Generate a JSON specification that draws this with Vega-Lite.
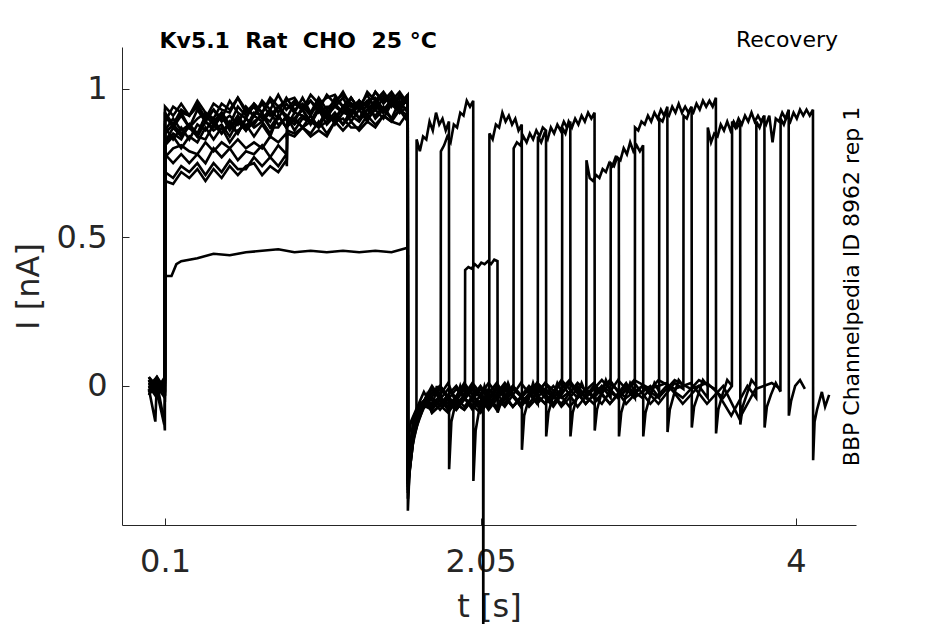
{
  "$schema": "https://vega.github.io/schema/vega-lite/v6.json",
  "description": "Kv5.1 recovery protocol, current traces",
  "background": "white",
  "autosize": {"type": "none"},
  "padding": {"left": 122, "top": 47, "right": 89, "bottom": 99},
  "width": 734,
  "height": 478,
  "config": {
    "font": "DejaVu Sans",
    "view": {"stroke": null},
    "axis": {
      "grid": false,
      "domainColor": "#262626",
      "tickColor": "#262626",
      "labelColor": "#262626",
      "titleColor": "#262626",
      "titleFontWeight": "normal",
      "domainWidth": 1,
      "tickWidth": 1
    }
  },
  "title": {
    "text": "Recovery",
    "anchor": "end",
    "frame": "group",
    "fontSize": 22,
    "fontWeight": "normal",
    "color": "#000",
    "baseline": "alphabetic",
    "offset": 0,
    "dx": -18,
    "dy": 40
  },
  "data": {
    "values": [
      {"s":0,"t":0,"i":0.02},{"s":0,"t":0.05,"i":-0.03},{"s":0,"t":0.099,"i":0.01},
      {"s":0,"t":0.1,"i":0.87},{"s":0,"t":0.15,"i":0.83},{"s":0,"t":0.2,"i":0.87},{"s":0,"t":0.25,"i":0.83},{"s":0,"t":0.3,"i":0.88},{"s":0,"t":0.35,"i":0.86},{"s":0,"t":0.4,"i":0.9},{"s":0,"t":0.45,"i":0.85},{"s":0,"t":0.5,"i":0.88},{"s":0,"t":0.55,"i":0.85},{"s":0,"t":0.6,"i":0.9},{"s":0,"t":0.65,"i":0.88},{"s":0,"t":0.7,"i":0.92},{"s":0,"t":0.75,"i":0.87},{"s":0,"t":0.8,"i":0.91},{"s":0,"t":0.85,"i":0.87},{"s":0,"t":0.9,"i":0.92},{"s":0,"t":0.95,"i":0.91},{"s":0,"t":1.0,"i":0.89},{"s":0,"t":1.05,"i":0.94},{"s":0,"t":1.1,"i":0.91},{"s":0,"t":1.15,"i":0.89},{"s":0,"t":1.2,"i":0.94},{"s":0,"t":1.25,"i":0.92},{"s":0,"t":1.3,"i":0.96},{"s":0,"t":1.35,"i":0.91},{"s":0,"t":1.4,"i":0.95},{"s":0,"t":1.45,"i":0.92},{"s":0,"t":1.5,"i":0.97},{"s":0,"t":1.55,"i":0.94},{"s":0,"t":1.6,"i":0.96},
      {"s":0,"t":1.601,"i":-0.42},{"s":0,"t":1.61,"i":-0.3},{"s":0,"t":1.63,"i":-0.2},{"s":0,"t":1.654,"i":-0.14},
      {"s":0,"t":1.655,"i":0.83},{"s":0,"t":1.675,"i":0.79},{"s":0,"t":1.695,"i":0.84},{"s":0,"t":1.715,"i":0.83},{"s":0,"t":1.735,"i":0.89},{"s":0,"t":1.755,"i":0.86},{"s":0,"t":1.775,"i":0.92},{"s":0,"t":1.795,"i":0.88},{"s":0,"t":1.815,"i":0.9},{"s":0,"t":1.835,"i":0.86},{"s":0,"t":1.855,"i":0.89},
      {"s":0,"t":1.856,"i":-0.28},{"s":0,"t":1.87,"i":-0.12},{"s":0,"t":1.895,"i":-0.06},{"s":0,"t":1.925,"i":0.0},{"s":0,"t":1.955,"i":-0.05},

      {"s":1,"t":0,"i":-0.01},{"s":1,"t":0.04,"i":-0.12},{"s":1,"t":0.05,"i":0.02},{"s":1,"t":0.099,"i":-0.02},
      {"s":1,"t":0.1,"i":0.81},{"s":1,"t":0.15,"i":0.84},{"s":1,"t":0.2,"i":0.8},{"s":1,"t":0.25,"i":0.84},{"s":1,"t":0.3,"i":0.82},{"s":1,"t":0.35,"i":0.87},{"s":1,"t":0.4,"i":0.83},{"s":1,"t":0.45,"i":0.87},{"s":1,"t":0.5,"i":0.82},{"s":1,"t":0.55,"i":0.86},{"s":1,"t":0.6,"i":0.88},{"s":1,"t":0.65,"i":0.84},{"s":1,"t":0.7,"i":0.88},{"s":1,"t":0.75,"i":0.84},{"s":1,"t":0.8,"i":0.91},{"s":1,"t":0.85,"i":0.87},{"s":1,"t":0.9,"i":0.9},{"s":1,"t":0.95,"i":0.87},{"s":1,"t":1.0,"i":0.89},{"s":1,"t":1.05,"i":0.87},{"s":1,"t":1.1,"i":0.92},{"s":1,"t":1.15,"i":0.89},{"s":1,"t":1.2,"i":0.94},{"s":1,"t":1.25,"i":0.89},{"s":1,"t":1.3,"i":0.93},{"s":1,"t":1.35,"i":0.89},{"s":1,"t":1.4,"i":0.94},{"s":1,"t":1.45,"i":0.92},{"s":1,"t":1.5,"i":0.95},{"s":1,"t":1.55,"i":0.92},{"s":1,"t":1.6,"i":0.94},
      {"s":1,"t":1.601,"i":-0.33},{"s":1,"t":1.615,"i":-0.27},{"s":1,"t":1.64,"i":-0.16},{"s":1,"t":1.68,"i":-0.1},{"s":1,"t":1.72,"i":-0.03},{"s":1,"t":1.75,"i":-0.08},{"s":1,"t":1.78,"i":0.0},{"s":1,"t":1.804,"i":-0.06},
      {"s":1,"t":1.805,"i":0.79},{"s":1,"t":1.825,"i":0.81},{"s":1,"t":1.845,"i":0.84},{"s":1,"t":1.865,"i":0.82},{"s":1,"t":1.885,"i":0.88},{"s":1,"t":1.905,"i":0.87},{"s":1,"t":1.925,"i":0.92},{"s":1,"t":1.945,"i":0.91},{"s":1,"t":1.965,"i":0.96},{"s":1,"t":1.985,"i":0.94},{"s":1,"t":2.005,"i":0.96},
      {"s":1,"t":2.006,"i":-0.32},{"s":1,"t":2.02,"i":-0.15},{"s":1,"t":2.045,"i":-0.07},{"s":1,"t":2.075,"i":0.0},{"s":1,"t":2.105,"i":-0.05},

      {"s":2,"t":0,"i":0.01},{"s":2,"t":0.05,"i":-0.02},{"s":2,"t":0.095,"i":-0.13},{"s":2,"t":0.099,"i":-0.03},
      {"s":2,"t":0.1,"i":0.37},{"s":2,"t":0.14,"i":0.37},{"s":2,"t":0.17,"i":0.41},{"s":2,"t":0.2,"i":0.42},{"s":2,"t":0.3,"i":0.43},{"s":2,"t":0.4,"i":0.445},{"s":2,"t":0.5,"i":0.44},{"s":2,"t":0.6,"i":0.45},{"s":2,"t":0.7,"i":0.455},{"s":2,"t":0.8,"i":0.46},{"s":2,"t":0.9,"i":0.45},{"s":2,"t":1.0,"i":0.455},{"s":2,"t":1.1,"i":0.45},{"s":2,"t":1.2,"i":0.455},{"s":2,"t":1.3,"i":0.45},{"s":2,"t":1.4,"i":0.455},{"s":2,"t":1.5,"i":0.45},{"s":2,"t":1.6,"i":0.465},
      {"s":2,"t":1.601,"i":-0.2},{"s":2,"t":1.62,"i":-0.12},{"s":2,"t":1.66,"i":-0.07},{"s":2,"t":1.7,"i":-0.02},{"s":2,"t":1.75,"i":-0.07},{"s":2,"t":1.8,"i":-0.03},{"s":2,"t":1.85,"i":0.01},{"s":2,"t":1.9,"i":-0.06},{"s":2,"t":1.954,"i":-0.03},
      {"s":2,"t":1.955,"i":0.39},{"s":2,"t":1.975,"i":0.4},{"s":2,"t":1.995,"i":0.395},{"s":2,"t":2.015,"i":0.41},{"s":2,"t":2.035,"i":0.4},{"s":2,"t":2.055,"i":0.415},{"s":2,"t":2.075,"i":0.41},{"s":2,"t":2.095,"i":0.42},{"s":2,"t":2.115,"i":0.41},{"s":2,"t":2.135,"i":0.425},{"s":2,"t":2.155,"i":0.42},
      {"s":2,"t":2.156,"i":-0.09},{"s":2,"t":2.18,"i":-0.05},{"s":2,"t":2.22,"i":0.01},{"s":2,"t":2.255,"i":-0.04},

      {"s":3,"t":0,"i":0.03},{"s":3,"t":0.05,"i":0.0},{"s":3,"t":0.099,"i":-0.04},
      {"s":3,"t":0.1,"i":0.91},{"s":3,"t":0.15,"i":0.88},{"s":3,"t":0.2,"i":0.93},{"s":3,"t":0.25,"i":0.91},{"s":3,"t":0.3,"i":0.95},{"s":3,"t":0.35,"i":0.9},{"s":3,"t":0.4,"i":0.93},{"s":3,"t":0.45,"i":0.9},{"s":3,"t":0.5,"i":0.96},{"s":3,"t":0.55,"i":0.92},{"s":3,"t":0.6,"i":0.9},{"s":3,"t":0.65,"i":0.95},{"s":3,"t":0.7,"i":0.92},{"s":3,"t":0.75,"i":0.96},{"s":3,"t":0.8,"i":0.92},{"s":3,"t":0.85,"i":0.97},{"s":3,"t":0.9,"i":0.93},{"s":3,"t":0.95,"i":0.95},{"s":3,"t":1.0,"i":0.92},{"s":3,"t":1.05,"i":0.97},{"s":3,"t":1.1,"i":0.93},{"s":3,"t":1.15,"i":0.96},{"s":3,"t":1.2,"i":0.98},{"s":3,"t":1.25,"i":0.95},{"s":3,"t":1.3,"i":0.94},{"s":3,"t":1.35,"i":0.98},{"s":3,"t":1.4,"i":0.93},{"s":3,"t":1.45,"i":0.97},{"s":3,"t":1.5,"i":0.96},{"s":3,"t":1.55,"i":0.99},{"s":3,"t":1.6,"i":0.95},
      {"s":3,"t":1.601,"i":-0.3},{"s":3,"t":1.615,"i":-0.22},{"s":3,"t":1.64,"i":-0.12},{"s":3,"t":1.68,"i":-0.07},{"s":3,"t":1.75,"i":0.0},{"s":3,"t":1.85,"i":-0.08},{"s":3,"t":1.95,"i":0.01},{"s":3,"t":2.05,"i":-0.07},{"s":3,"t":2.104,"i":-0.03},
      {"s":3,"t":2.105,"i":0.85},{"s":3,"t":2.125,"i":0.83},{"s":3,"t":2.145,"i":0.88},{"s":3,"t":2.165,"i":0.87},{"s":3,"t":2.185,"i":0.92},{"s":3,"t":2.205,"i":0.89},{"s":3,"t":2.225,"i":0.91},{"s":3,"t":2.245,"i":0.88},{"s":3,"t":2.265,"i":0.9},{"s":3,"t":2.285,"i":0.86},{"s":3,"t":2.305,"i":0.88},
      {"s":3,"t":2.306,"i":-0.215},{"s":3,"t":2.32,"i":-0.1},{"s":3,"t":2.345,"i":-0.05},{"s":3,"t":2.375,"i":0.01},{"s":3,"t":2.405,"i":-0.04},

      {"s":4,"t":0,"i":-0.02},{"s":4,"t":0.05,"i":0.03},{"s":4,"t":0.099,"i":-0.01},
      {"s":4,"t":0.1,"i":0.72},{"s":4,"t":0.15,"i":0.7},{"s":4,"t":0.2,"i":0.74},{"s":4,"t":0.25,"i":0.72},{"s":4,"t":0.3,"i":0.75},{"s":4,"t":0.35,"i":0.71},{"s":4,"t":0.4,"i":0.75},{"s":4,"t":0.45,"i":0.72},{"s":4,"t":0.5,"i":0.76},{"s":4,"t":0.55,"i":0.73},{"s":4,"t":0.6,"i":0.73},{"s":4,"t":0.65,"i":0.77},{"s":4,"t":0.7,"i":0.74},{"s":4,"t":0.75,"i":0.77},{"s":4,"t":0.8,"i":0.74},{"s":4,"t":0.85,"i":0.78},{"s":4,"t":0.853,"i":0.76},{"s":4,"t":0.855,"i":0.86},
      {"s":4,"t":0.9,"i":0.85},{"s":4,"t":0.95,"i":0.87},{"s":4,"t":1.0,"i":0.85},{"s":4,"t":1.05,"i":0.89},{"s":4,"t":1.1,"i":0.85},{"s":4,"t":1.15,"i":0.89},{"s":4,"t":1.2,"i":0.9},{"s":4,"t":1.25,"i":0.87},{"s":4,"t":1.3,"i":0.87},{"s":4,"t":1.35,"i":0.91},{"s":4,"t":1.4,"i":0.88},{"s":4,"t":1.45,"i":0.91},{"s":4,"t":1.5,"i":0.89},{"s":4,"t":1.55,"i":0.93},{"s":4,"t":1.6,"i":0.89},
      {"s":4,"t":1.601,"i":-0.36},{"s":4,"t":1.612,"i":-0.26},{"s":4,"t":1.635,"i":-0.15},{"s":4,"t":1.67,"i":-0.09},{"s":4,"t":1.72,"i":-0.03},{"s":4,"t":1.8,"i":-0.08},{"s":4,"t":1.9,"i":-0.01},{"s":4,"t":2.0,"i":-0.07},{"s":4,"t":2.1,"i":0.01},{"s":4,"t":2.2,"i":-0.06},{"s":4,"t":2.254,"i":-0.01},
      {"s":4,"t":2.255,"i":0.8},{"s":4,"t":2.275,"i":0.82},{"s":4,"t":2.295,"i":0.81},{"s":4,"t":2.315,"i":0.84},{"s":4,"t":2.335,"i":0.82},{"s":4,"t":2.355,"i":0.85},{"s":4,"t":2.375,"i":0.83},{"s":4,"t":2.395,"i":0.86},{"s":4,"t":2.415,"i":0.84},{"s":4,"t":2.435,"i":0.87},{"s":4,"t":2.455,"i":0.86},
      {"s":4,"t":2.456,"i":-0.17},{"s":4,"t":2.47,"i":-0.09},{"s":4,"t":2.495,"i":-0.04},{"s":4,"t":2.525,"i":0.01},{"s":4,"t":2.555,"i":-0.02},

      {"s":5,"t":0,"i":0.0},{"s":5,"t":0.05,"i":-0.04},{"s":5,"t":0.099,"i":0.02},
      {"s":5,"t":0.1,"i":0.86},{"s":5,"t":0.15,"i":0.9},{"s":5,"t":0.2,"i":0.86},{"s":5,"t":0.25,"i":0.88},{"s":5,"t":0.3,"i":0.85},{"s":5,"t":0.35,"i":0.91},{"s":5,"t":0.4,"i":0.88},{"s":5,"t":0.45,"i":0.92},{"s":5,"t":0.5,"i":0.87},{"s":5,"t":0.55,"i":0.91},{"s":5,"t":0.6,"i":0.87},{"s":5,"t":0.65,"i":0.92},{"s":5,"t":0.7,"i":0.91},{"s":5,"t":0.75,"i":0.89},{"s":5,"t":0.8,"i":0.94},{"s":5,"t":0.85,"i":0.91},{"s":5,"t":0.9,"i":0.89},{"s":5,"t":0.95,"i":0.94},{"s":5,"t":1.0,"i":0.91},{"s":5,"t":1.05,"i":0.96},{"s":5,"t":1.1,"i":0.91},{"s":5,"t":1.15,"i":0.94},{"s":5,"t":1.2,"i":0.92},{"s":5,"t":1.25,"i":0.97},{"s":5,"t":1.3,"i":0.93},{"s":5,"t":1.35,"i":0.96},{"s":5,"t":1.4,"i":0.97},{"s":5,"t":1.45,"i":0.93},{"s":5,"t":1.5,"i":0.96},{"s":5,"t":1.55,"i":0.93},{"s":5,"t":1.6,"i":0.98},
      {"s":5,"t":1.601,"i":-0.32},{"s":5,"t":1.615,"i":-0.24},{"s":5,"t":1.64,"i":-0.13},{"s":5,"t":1.68,"i":-0.08},{"s":5,"t":1.75,"i":-0.04},{"s":5,"t":1.85,"i":-0.09},{"s":5,"t":1.95,"i":-0.01},{"s":5,"t":2.05,"i":-0.08},{"s":5,"t":2.15,"i":0.0},{"s":5,"t":2.25,"i":-0.07},{"s":5,"t":2.35,"i":-0.01},{"s":5,"t":2.404,"i":-0.06},
      {"s":5,"t":2.405,"i":0.84},{"s":5,"t":2.425,"i":0.82},{"s":5,"t":2.445,"i":0.85},{"s":5,"t":2.465,"i":0.83},{"s":5,"t":2.485,"i":0.87},{"s":5,"t":2.505,"i":0.85},{"s":5,"t":2.525,"i":0.88},{"s":5,"t":2.545,"i":0.86},{"s":5,"t":2.565,"i":0.89},{"s":5,"t":2.585,"i":0.87},{"s":5,"t":2.605,"i":0.89},
      {"s":5,"t":2.606,"i":-0.17},{"s":5,"t":2.62,"i":-0.09},{"s":5,"t":2.645,"i":-0.04},{"s":5,"t":2.675,"i":0.01},{"s":5,"t":2.705,"i":-0.03},

      {"s":6,"t":0,"i":0.02},{"s":6,"t":0.04,"i":-0.02},{"s":6,"t":0.099,"i":0.03},
      {"s":6,"t":0.1,"i":0.92},{"s":6,"t":0.15,"i":0.88},{"s":6,"t":0.2,"i":0.92},{"s":6,"t":0.25,"i":0.87},{"s":6,"t":0.3,"i":0.9},{"s":6,"t":0.35,"i":0.92},{"s":6,"t":0.4,"i":0.89},{"s":6,"t":0.45,"i":0.92},{"s":6,"t":0.5,"i":0.88},{"s":6,"t":0.55,"i":0.94},{"s":6,"t":0.6,"i":0.91},{"s":6,"t":0.65,"i":0.94},{"s":6,"t":0.7,"i":0.9},{"s":6,"t":0.75,"i":0.93},{"s":6,"t":0.8,"i":0.9},{"s":6,"t":0.85,"i":0.95},{"s":6,"t":0.9,"i":0.92},{"s":6,"t":0.95,"i":0.97},{"s":6,"t":1.0,"i":0.92},{"s":6,"t":1.05,"i":0.95},{"s":6,"t":1.1,"i":0.91},{"s":6,"t":1.15,"i":0.97},{"s":6,"t":1.2,"i":0.94},{"s":6,"t":1.25,"i":0.97},{"s":6,"t":1.3,"i":0.93},{"s":6,"t":1.35,"i":0.96},{"s":6,"t":1.4,"i":0.95},{"s":6,"t":1.45,"i":0.98},{"s":6,"t":1.5,"i":0.94},{"s":6,"t":1.55,"i":0.98},{"s":6,"t":1.6,"i":0.95},
      {"s":6,"t":1.601,"i":-0.29},{"s":6,"t":1.615,"i":-0.2},{"s":6,"t":1.64,"i":-0.11},{"s":6,"t":1.68,"i":-0.06},{"s":6,"t":1.8,"i":0.0},{"s":6,"t":1.9,"i":-0.07},{"s":6,"t":2.0,"i":0.01},{"s":6,"t":2.1,"i":-0.06},{"s":6,"t":2.2,"i":0.0},{"s":6,"t":2.3,"i":-0.07},{"s":6,"t":2.4,"i":0.01},{"s":6,"t":2.5,"i":-0.06},{"s":6,"t":2.554,"i":-0.01},
      {"s":6,"t":2.555,"i":0.87},{"s":6,"t":2.575,"i":0.85},{"s":6,"t":2.595,"i":0.89},{"s":6,"t":2.615,"i":0.87},{"s":6,"t":2.635,"i":0.9},{"s":6,"t":2.655,"i":0.88},{"s":6,"t":2.675,"i":0.91},{"s":6,"t":2.695,"i":0.89},{"s":6,"t":2.715,"i":0.92},{"s":6,"t":2.735,"i":0.9},{"s":6,"t":2.755,"i":0.92},
      {"s":6,"t":2.756,"i":-0.15},{"s":6,"t":2.77,"i":-0.08},{"s":6,"t":2.795,"i":-0.03},{"s":6,"t":2.825,"i":0.02},{"s":6,"t":2.855,"i":-0.02},

      {"s":7,"t":0,"i":-0.03},{"s":7,"t":0.05,"i":0.01},{"s":7,"t":0.095,"i":-0.12},{"s":7,"t":0.099,"i":-0.15},
      {"s":7,"t":0.1,"i":0.69},{"s":7,"t":0.15,"i":0.68},{"s":7,"t":0.2,"i":0.72},{"s":7,"t":0.25,"i":0.7},{"s":7,"t":0.3,"i":0.73},{"s":7,"t":0.35,"i":0.69},{"s":7,"t":0.4,"i":0.73},{"s":7,"t":0.45,"i":0.7},{"s":7,"t":0.5,"i":0.74},{"s":7,"t":0.55,"i":0.71},{"s":7,"t":0.6,"i":0.74},{"s":7,"t":0.65,"i":0.75},{"s":7,"t":0.7,"i":0.71},{"s":7,"t":0.75,"i":0.74},{"s":7,"t":0.8,"i":0.72},{"s":7,"t":0.85,"i":0.76},{"s":7,"t":0.853,"i":0.74},{"s":7,"t":0.855,"i":0.85},
      {"s":7,"t":0.9,"i":0.84},{"s":7,"t":0.95,"i":0.87},{"s":7,"t":1.0,"i":0.84},{"s":7,"t":1.05,"i":0.86},{"s":7,"t":1.1,"i":0.84},{"s":7,"t":1.15,"i":0.89},{"s":7,"t":1.2,"i":0.86},{"s":7,"t":1.25,"i":0.89},{"s":7,"t":1.3,"i":0.86},{"s":7,"t":1.35,"i":0.89},{"s":7,"t":1.4,"i":0.87},{"s":7,"t":1.45,"i":0.91},{"s":7,"t":1.5,"i":0.89},{"s":7,"t":1.55,"i":0.88},{"s":7,"t":1.6,"i":0.92},
      {"s":7,"t":1.601,"i":-0.38},{"s":7,"t":1.613,"i":-0.28},{"s":7,"t":1.635,"i":-0.18},{"s":7,"t":1.67,"i":-0.11},{"s":7,"t":1.72,"i":-0.05},{"s":7,"t":1.75,"i":-0.09},{"s":7,"t":1.85,"i":-0.04},{"s":7,"t":1.95,"i":-0.08},{"s":7,"t":2.05,"i":-0.01},{"s":7,"t":2.15,"i":-0.07},{"s":7,"t":2.25,"i":0.0},{"s":7,"t":2.35,"i":-0.06},{"s":7,"t":2.45,"i":0.01},{"s":7,"t":2.55,"i":-0.04},{"s":7,"t":2.65,"i":0.0},{"s":7,"t":2.704,"i":-0.04},
      {"s":7,"t":2.705,"i":0.76},{"s":7,"t":2.725,"i":0.7},{"s":7,"t":2.745,"i":0.69},{"s":7,"t":2.765,"i":0.71},{"s":7,"t":2.785,"i":0.7},{"s":7,"t":2.805,"i":0.73},{"s":7,"t":2.825,"i":0.72},{"s":7,"t":2.845,"i":0.75},{"s":7,"t":2.865,"i":0.74},{"s":7,"t":2.885,"i":0.77},{"s":7,"t":2.905,"i":0.76},
      {"s":7,"t":2.906,"i":-0.17},{"s":7,"t":2.92,"i":-0.09},{"s":7,"t":2.945,"i":-0.04},{"s":7,"t":2.975,"i":0.01},{"s":7,"t":3.005,"i":-0.02},

      {"s":8,"t":0,"i":0.01},{"s":8,"t":0.05,"i":-0.02},{"s":8,"t":0.099,"i":0.0},
      {"s":8,"t":0.1,"i":0.78},{"s":8,"t":0.15,"i":0.75},{"s":8,"t":0.2,"i":0.78},{"s":8,"t":0.25,"i":0.75},{"s":8,"t":0.3,"i":0.78},{"s":8,"t":0.35,"i":0.75},{"s":8,"t":0.4,"i":0.8},{"s":8,"t":0.45,"i":0.77},{"s":8,"t":0.5,"i":0.8},{"s":8,"t":0.55,"i":0.76},{"s":8,"t":0.6,"i":0.79},{"s":8,"t":0.65,"i":0.78},{"s":8,"t":0.7,"i":0.81},{"s":8,"t":0.75,"i":0.77},{"s":8,"t":0.8,"i":0.81},{"s":8,"t":0.85,"i":0.78},{"s":8,"t":0.853,"i":0.8},{"s":8,"t":0.855,"i":0.88},
      {"s":8,"t":0.9,"i":0.9},{"s":8,"t":0.95,"i":0.87},{"s":8,"t":1.0,"i":0.91},{"s":8,"t":1.05,"i":0.87},{"s":8,"t":1.1,"i":0.89},{"s":8,"t":1.15,"i":0.92},{"s":8,"t":1.2,"i":0.88},{"s":8,"t":1.25,"i":0.91},{"s":8,"t":1.3,"i":0.89},{"s":8,"t":1.35,"i":0.93},{"s":8,"t":1.4,"i":0.91},{"s":8,"t":1.45,"i":0.94},{"s":8,"t":1.5,"i":0.9},{"s":8,"t":1.55,"i":0.93},{"s":8,"t":1.6,"i":0.91},
      {"s":8,"t":1.601,"i":-0.34},{"s":8,"t":1.614,"i":-0.25},{"s":8,"t":1.64,"i":-0.14},{"s":8,"t":1.68,"i":-0.08},{"s":8,"t":1.8,"i":-0.04},{"s":8,"t":1.9,"i":-0.08},{"s":8,"t":2.0,"i":-0.01},{"s":8,"t":2.1,"i":-0.07},{"s":8,"t":2.2,"i":0.0},{"s":8,"t":2.3,"i":-0.06},{"s":8,"t":2.4,"i":-0.01},{"s":8,"t":2.5,"i":-0.07},{"s":8,"t":2.6,"i":0.01},{"s":8,"t":2.7,"i":-0.06},{"s":8,"t":2.8,"i":0.0},{"s":8,"t":2.854,"i":-0.04},
      {"s":8,"t":2.855,"i":0.75},{"s":8,"t":2.875,"i":0.74},{"s":8,"t":2.895,"i":0.77},{"s":8,"t":2.915,"i":0.76},{"s":8,"t":2.935,"i":0.8},{"s":8,"t":2.955,"i":0.78},{"s":8,"t":2.975,"i":0.82},{"s":8,"t":2.995,"i":0.79},{"s":8,"t":3.015,"i":0.81},{"s":8,"t":3.035,"i":0.79},{"s":8,"t":3.055,"i":0.81},
      {"s":8,"t":3.056,"i":-0.17},{"s":8,"t":3.07,"i":-0.09},{"s":8,"t":3.095,"i":-0.04},{"s":8,"t":3.125,"i":0.01},{"s":8,"t":3.155,"i":-0.02},

      {"s":9,"t":0,"i":-0.02},{"s":9,"t":0.05,"i":0.02},{"s":9,"t":0.099,"i":-0.03},
      {"s":9,"t":0.1,"i":0.82},{"s":9,"t":0.15,"i":0.85},{"s":9,"t":0.2,"i":0.83},{"s":9,"t":0.25,"i":0.88},{"s":9,"t":0.3,"i":0.84},{"s":9,"t":0.35,"i":0.83},{"s":9,"t":0.4,"i":0.88},{"s":9,"t":0.45,"i":0.85},{"s":9,"t":0.5,"i":0.89},{"s":9,"t":0.55,"i":0.85},{"s":9,"t":0.6,"i":0.9},{"s":9,"t":0.65,"i":0.87},{"s":9,"t":0.7,"i":0.89},{"s":9,"t":0.75,"i":0.85},{"s":9,"t":0.8,"i":0.91},{"s":9,"t":0.85,"i":0.87},{"s":9,"t":0.9,"i":0.9},{"s":9,"t":0.95,"i":0.93},{"s":9,"t":1.0,"i":0.89},{"s":9,"t":1.05,"i":0.88},{"s":9,"t":1.1,"i":0.93},{"s":9,"t":1.15,"i":0.88},{"s":9,"t":1.2,"i":0.92},{"s":9,"t":1.25,"i":0.91},{"s":9,"t":1.3,"i":0.95},{"s":9,"t":1.35,"i":0.9},{"s":9,"t":1.4,"i":0.93},{"s":9,"t":1.45,"i":0.9},{"s":9,"t":1.5,"i":0.95},{"s":9,"t":1.55,"i":0.93},{"s":9,"t":1.6,"i":0.97},
      {"s":9,"t":1.601,"i":-0.31},{"s":9,"t":1.615,"i":-0.23},{"s":9,"t":1.64,"i":-0.12},{"s":9,"t":1.68,"i":-0.07},{"s":9,"t":1.75,"i":-0.01},{"s":9,"t":1.85,"i":-0.08},{"s":9,"t":1.95,"i":-0.04},{"s":9,"t":2.05,"i":-0.09},{"s":9,"t":2.15,"i":-0.01},{"s":9,"t":2.25,"i":-0.07},{"s":9,"t":2.35,"i":0.0},{"s":9,"t":2.45,"i":-0.06},{"s":9,"t":2.55,"i":0.01},{"s":9,"t":2.65,"i":-0.07},{"s":9,"t":2.75,"i":0.0},{"s":9,"t":2.85,"i":-0.06},{"s":9,"t":2.95,"i":0.01},{"s":9,"t":3.004,"i":-0.04},
      {"s":9,"t":3.005,"i":0.87},{"s":9,"t":3.025,"i":0.86},{"s":9,"t":3.045,"i":0.89},{"s":9,"t":3.065,"i":0.88},{"s":9,"t":3.085,"i":0.91},{"s":9,"t":3.105,"i":0.89},{"s":9,"t":3.125,"i":0.92},{"s":9,"t":3.145,"i":0.9},{"s":9,"t":3.165,"i":0.93},{"s":9,"t":3.185,"i":0.91},{"s":9,"t":3.205,"i":0.94},
      {"s":9,"t":3.206,"i":-0.155},{"s":9,"t":3.22,"i":-0.08},{"s":9,"t":3.245,"i":-0.03},{"s":9,"t":3.275,"i":0.02},{"s":9,"t":3.305,"i":0.0},

      {"s":10,"t":0,"i":0.0},{"s":10,"t":0.05,"i":0.03},{"s":10,"t":0.099,"i":-0.02},
      {"s":10,"t":0.1,"i":0.94},{"s":10,"t":0.15,"i":0.91},{"s":10,"t":0.2,"i":0.95},{"s":10,"t":0.25,"i":0.91},{"s":10,"t":0.3,"i":0.94},{"s":10,"t":0.35,"i":0.9},{"s":10,"t":0.4,"i":0.95},{"s":10,"t":0.45,"i":0.93},{"s":10,"t":0.5,"i":0.92},{"s":10,"t":0.55,"i":0.97},{"s":10,"t":0.6,"i":0.93},{"s":10,"t":0.65,"i":0.91},{"s":10,"t":0.7,"i":0.96},{"s":10,"t":0.75,"i":0.93},{"s":10,"t":0.8,"i":0.98},{"s":10,"t":0.85,"i":0.93},{"s":10,"t":0.9,"i":0.96},{"s":10,"t":0.95,"i":0.93},{"s":10,"t":1.0,"i":0.98},{"s":10,"t":1.05,"i":0.95},{"s":10,"t":1.1,"i":0.97},{"s":10,"t":1.15,"i":0.98},{"s":10,"t":1.2,"i":0.94},{"s":10,"t":1.25,"i":0.97},{"s":10,"t":1.3,"i":0.93},{"s":10,"t":1.35,"i":0.99},{"s":10,"t":1.4,"i":0.96},{"s":10,"t":1.45,"i":0.99},{"s":10,"t":1.5,"i":0.95},{"s":10,"t":1.55,"i":0.97},{"s":10,"t":1.6,"i":0.95},
      {"s":10,"t":1.601,"i":-0.3},{"s":10,"t":1.615,"i":-0.22},{"s":10,"t":1.64,"i":-0.12},{"s":10,"t":1.68,"i":-0.07},{"s":10,"t":1.8,"i":-0.06},{"s":10,"t":1.9,"i":0.0},{"s":10,"t":2.0,"i":-0.08},{"s":10,"t":2.066,"i":-0.04},{"s":10,"t":2.067,"i":-0.85},{"s":10,"t":2.069,"i":-0.05},{"s":10,"t":2.1,"i":-0.01},{"s":10,"t":2.2,"i":-0.07},{"s":10,"t":2.3,"i":0.01},{"s":10,"t":2.4,"i":-0.06},{"s":10,"t":2.5,"i":0.0},{"s":10,"t":2.6,"i":-0.07},{"s":10,"t":2.7,"i":-0.01},{"s":10,"t":2.8,"i":-0.06},{"s":10,"t":2.9,"i":0.02},{"s":10,"t":3.0,"i":-0.04},{"s":10,"t":3.1,"i":0.0},{"s":10,"t":3.154,"i":-0.04},
      {"s":10,"t":3.155,"i":0.9},{"s":10,"t":3.175,"i":0.89},{"s":10,"t":3.195,"i":0.92},{"s":10,"t":3.215,"i":0.91},{"s":10,"t":3.235,"i":0.94},{"s":10,"t":3.255,"i":0.92},{"s":10,"t":3.275,"i":0.95},{"s":10,"t":3.295,"i":0.92},{"s":10,"t":3.315,"i":0.94},{"s":10,"t":3.335,"i":0.92},{"s":10,"t":3.355,"i":0.94},
      {"s":10,"t":3.356,"i":-0.14},{"s":10,"t":3.37,"i":-0.07},{"s":10,"t":3.395,"i":-0.03},{"s":10,"t":3.425,"i":0.02},{"s":10,"t":3.455,"i":0.0},

      {"s":11,"t":0,"i":0.02},{"s":11,"t":0.05,"i":-0.01},{"s":11,"t":0.099,"i":0.02},
      {"s":11,"t":0.1,"i":0.91},{"s":11,"t":0.15,"i":0.87},{"s":11,"t":0.2,"i":0.91},{"s":11,"t":0.25,"i":0.87},{"s":11,"t":0.3,"i":0.93},{"s":11,"t":0.35,"i":0.89},{"s":11,"t":0.4,"i":0.93},{"s":11,"t":0.45,"i":0.89},{"s":11,"t":0.5,"i":0.91},{"s":11,"t":0.55,"i":0.88},{"s":11,"t":0.6,"i":0.94},{"s":11,"t":0.65,"i":0.91},{"s":11,"t":0.7,"i":0.95},{"s":11,"t":0.75,"i":0.91},{"s":11,"t":0.8,"i":0.94},{"s":11,"t":0.85,"i":0.9},{"s":11,"t":0.9,"i":0.95},{"s":11,"t":0.95,"i":0.93},{"s":11,"t":1.0,"i":0.96},{"s":11,"t":1.05,"i":0.92},{"s":11,"t":1.1,"i":0.94},{"s":11,"t":1.15,"i":0.94},{"s":11,"t":1.2,"i":0.97},{"s":11,"t":1.25,"i":0.92},{"s":11,"t":1.3,"i":0.96},{"s":11,"t":1.35,"i":0.94},{"s":11,"t":1.4,"i":0.99},{"s":11,"t":1.45,"i":0.95},{"s":11,"t":1.5,"i":0.98},{"s":11,"t":1.55,"i":0.94},{"s":11,"t":1.6,"i":0.97},
      {"s":11,"t":1.601,"i":-0.3},{"s":11,"t":1.615,"i":-0.21},{"s":11,"t":1.64,"i":-0.11},{"s":11,"t":1.68,"i":-0.06},{"s":11,"t":1.75,"i":-0.08},{"s":11,"t":1.85,"i":-0.01},{"s":11,"t":1.95,"i":-0.07},{"s":11,"t":2.05,"i":0.0},{"s":11,"t":2.15,"i":-0.08},{"s":11,"t":2.25,"i":-0.01},{"s":11,"t":2.35,"i":-0.06},{"s":11,"t":2.45,"i":0.01},{"s":11,"t":2.55,"i":-0.07},{"s":11,"t":2.65,"i":-0.01},{"s":11,"t":2.75,"i":-0.06},{"s":11,"t":2.85,"i":0.01},{"s":11,"t":2.95,"i":-0.04},{"s":11,"t":3.05,"i":0.0},{"s":11,"t":3.15,"i":-0.06},{"s":11,"t":3.25,"i":0.01},{"s":11,"t":3.304,"i":-0.01},
      {"s":11,"t":3.305,"i":0.91},{"s":11,"t":3.325,"i":0.9},{"s":11,"t":3.345,"i":0.93},{"s":11,"t":3.365,"i":0.92},{"s":11,"t":3.385,"i":0.95},{"s":11,"t":3.405,"i":0.93},{"s":11,"t":3.425,"i":0.96},{"s":11,"t":3.445,"i":0.94},{"s":11,"t":3.465,"i":0.96},{"s":11,"t":3.485,"i":0.94},{"s":11,"t":3.505,"i":0.97},
      {"s":11,"t":3.506,"i":-0.16},{"s":11,"t":3.52,"i":-0.08},{"s":11,"t":3.545,"i":-0.03},{"s":11,"t":3.575,"i":0.02},{"s":11,"t":3.605,"i":0.0},

      {"s":12,"t":0,"i":-0.01},{"s":12,"t":0.05,"i":0.02},{"s":12,"t":0.099,"i":-0.02},
      {"s":12,"t":0.1,"i":0.77},{"s":12,"t":0.15,"i":0.8},{"s":12,"t":0.2,"i":0.81},{"s":12,"t":0.25,"i":0.79},{"s":12,"t":0.3,"i":0.78},{"s":12,"t":0.35,"i":0.82},{"s":12,"t":0.4,"i":0.79},{"s":12,"t":0.45,"i":0.82},{"s":12,"t":0.5,"i":0.8},{"s":12,"t":0.55,"i":0.83},{"s":12,"t":0.6,"i":0.8},{"s":12,"t":0.65,"i":0.82},{"s":12,"t":0.7,"i":0.8},{"s":12,"t":0.75,"i":0.84},{"s":12,"t":0.8,"i":0.82},{"s":12,"t":0.85,"i":0.85},{"s":12,"t":0.853,"i":0.83},{"s":12,"t":0.855,"i":0.9},
      {"s":12,"t":0.9,"i":0.88},{"s":12,"t":0.95,"i":0.91},{"s":12,"t":1.0,"i":0.89},{"s":12,"t":1.05,"i":0.93},{"s":12,"t":1.1,"i":0.9},{"s":12,"t":1.15,"i":0.9},{"s":12,"t":1.2,"i":0.94},{"s":12,"t":1.25,"i":0.91},{"s":12,"t":1.3,"i":0.95},{"s":12,"t":1.35,"i":0.91},{"s":12,"t":1.4,"i":0.96},{"s":12,"t":1.45,"i":0.93},{"s":12,"t":1.5,"i":0.95},{"s":12,"t":1.55,"i":0.93},{"s":12,"t":1.6,"i":0.97},
      {"s":12,"t":1.601,"i":-0.33},{"s":12,"t":1.615,"i":-0.24},{"s":12,"t":1.64,"i":-0.13},{"s":12,"t":1.68,"i":-0.07},{"s":12,"t":1.8,"i":-0.01},{"s":12,"t":1.9,"i":-0.07},{"s":12,"t":2.0,"i":0.0},{"s":12,"t":2.1,"i":-0.08},{"s":12,"t":2.2,"i":-0.01},{"s":12,"t":2.3,"i":-0.06},{"s":12,"t":2.4,"i":0.01},{"s":12,"t":2.5,"i":-0.04},{"s":12,"t":2.6,"i":0.02},{"s":12,"t":2.7,"i":-0.06},{"s":12,"t":2.8,"i":0.0},{"s":12,"t":2.9,"i":-0.04},{"s":12,"t":3.0,"i":0.02},{"s":12,"t":3.1,"i":-0.01},{"s":12,"t":3.2,"i":0.01},{"s":12,"t":3.3,"i":-0.06},{"s":12,"t":3.4,"i":0.0},{"s":12,"t":3.454,"i":-0.04},
      {"s":12,"t":3.455,"i":0.87},{"s":12,"t":3.475,"i":0.82},{"s":12,"t":3.495,"i":0.85},{"s":12,"t":3.515,"i":0.84},{"s":12,"t":3.535,"i":0.88},{"s":12,"t":3.555,"i":0.86},{"s":12,"t":3.575,"i":0.89},{"s":12,"t":3.595,"i":0.86},{"s":12,"t":3.615,"i":0.89},{"s":12,"t":3.635,"i":0.87},{"s":12,"t":3.655,"i":0.89},
      {"s":12,"t":3.656,"i":-0.13},{"s":12,"t":3.67,"i":-0.07},{"s":12,"t":3.695,"i":-0.03},{"s":12,"t":3.725,"i":0.02},{"s":12,"t":3.755,"i":0.0},

      {"s":13,"t":0,"i":0.03},{"s":13,"t":0.05,"i":-0.02},{"s":13,"t":0.099,"i":0.01},
      {"s":13,"t":0.1,"i":0.82},{"s":13,"t":0.15,"i":0.87},{"s":13,"t":0.2,"i":0.84},{"s":13,"t":0.25,"i":0.88},{"s":13,"t":0.3,"i":0.84},{"s":13,"t":0.35,"i":0.89},{"s":13,"t":0.4,"i":0.86},{"s":13,"t":0.45,"i":0.88},{"s":13,"t":0.5,"i":0.84},{"s":13,"t":0.55,"i":0.89},{"s":13,"t":0.6,"i":0.86},{"s":13,"t":0.65,"i":0.89},{"s":13,"t":0.7,"i":0.91},{"s":13,"t":0.75,"i":0.87},{"s":13,"t":0.8,"i":0.87},{"s":13,"t":0.85,"i":0.91},{"s":13,"t":0.9,"i":0.86},{"s":13,"t":0.95,"i":0.9},{"s":13,"t":1.0,"i":0.89},{"s":13,"t":1.05,"i":0.93},{"s":13,"t":1.1,"i":0.88},{"s":13,"t":1.15,"i":0.91},{"s":13,"t":1.2,"i":0.88},{"s":13,"t":1.25,"i":0.93},{"s":13,"t":1.3,"i":0.9},{"s":13,"t":1.35,"i":0.95},{"s":13,"t":1.4,"i":0.9},{"s":13,"t":1.45,"i":0.93},{"s":13,"t":1.5,"i":0.9},{"s":13,"t":1.55,"i":0.96},{"s":13,"t":1.6,"i":0.92},
      {"s":13,"t":1.601,"i":-0.35},{"s":13,"t":1.615,"i":-0.26},{"s":13,"t":1.64,"i":-0.15},{"s":13,"t":1.68,"i":-0.08},{"s":13,"t":1.72,"i":-0.05},{"s":13,"t":1.75,"i":-0.09},{"s":13,"t":1.85,"i":-0.04},{"s":13,"t":1.95,"i":-0.08},{"s":13,"t":2.05,"i":-0.01},{"s":13,"t":2.15,"i":-0.07},{"s":13,"t":2.25,"i":0.0},{"s":13,"t":2.35,"i":-0.07},{"s":13,"t":2.45,"i":-0.01},{"s":13,"t":2.55,"i":-0.06},{"s":13,"t":2.65,"i":0.01},{"s":13,"t":2.75,"i":-0.04},{"s":13,"t":2.85,"i":0.02},{"s":13,"t":2.95,"i":-0.06},{"s":13,"t":3.05,"i":0.0},{"s":13,"t":3.15,"i":-0.04},{"s":13,"t":3.25,"i":0.02},{"s":13,"t":3.35,"i":-0.01},{"s":13,"t":3.45,"i":0.01},{"s":13,"t":3.55,"i":-0.04},{"s":13,"t":3.604,"i":0.0},
      {"s":13,"t":3.605,"i":0.89},{"s":13,"t":3.625,"i":0.87},{"s":13,"t":3.645,"i":0.9},{"s":13,"t":3.665,"i":0.88},{"s":13,"t":3.685,"i":0.91},{"s":13,"t":3.705,"i":0.89},{"s":13,"t":3.725,"i":0.92},{"s":13,"t":3.745,"i":0.89},{"s":13,"t":3.765,"i":0.91},{"s":13,"t":3.785,"i":0.89},{"s":13,"t":3.805,"i":0.91},
      {"s":13,"t":3.806,"i":-0.14},{"s":13,"t":3.82,"i":-0.07},{"s":13,"t":3.845,"i":-0.03},{"s":13,"t":3.875,"i":0.01},{"s":13,"t":3.905,"i":-0.02},

      {"s":14,"t":0,"i":-0.03},{"s":14,"t":0.05,"i":0.01},{"s":14,"t":0.099,"i":-0.01},
      {"s":14,"t":0.1,"i":0.89},{"s":14,"t":0.15,"i":0.94},{"s":14,"t":0.2,"i":0.92},{"s":14,"t":0.25,"i":0.91},{"s":14,"t":0.3,"i":0.96},{"s":14,"t":0.35,"i":0.92},{"s":14,"t":0.4,"i":0.9},{"s":14,"t":0.45,"i":0.95},{"s":14,"t":0.5,"i":0.93},{"s":14,"t":0.55,"i":0.97},{"s":14,"t":0.6,"i":0.92},{"s":14,"t":0.65,"i":0.95},{"s":14,"t":0.7,"i":0.92},{"s":14,"t":0.75,"i":0.97},{"s":14,"t":0.8,"i":0.94},{"s":14,"t":0.85,"i":0.96},{"s":14,"t":0.9,"i":0.97},{"s":14,"t":0.95,"i":0.93},{"s":14,"t":1.0,"i":0.96},{"s":14,"t":1.05,"i":0.93},{"s":14,"t":1.1,"i":0.98},{"s":14,"t":1.15,"i":0.95},{"s":14,"t":1.2,"i":0.99},{"s":14,"t":1.25,"i":0.94},{"s":14,"t":1.3,"i":0.96},{"s":14,"t":1.35,"i":0.94},{"s":14,"t":1.4,"i":0.99},{"s":14,"t":1.45,"i":0.96},{"s":14,"t":1.5,"i":0.99},{"s":14,"t":1.55,"i":0.95},{"s":14,"t":1.6,"i":0.98},
      {"s":14,"t":1.601,"i":-0.29},{"s":14,"t":1.615,"i":-0.2},{"s":14,"t":1.64,"i":-0.1},{"s":14,"t":1.68,"i":-0.06},{"s":14,"t":1.8,"i":0.0},{"s":14,"t":1.9,"i":-0.08},{"s":14,"t":2.0,"i":-0.01},{"s":14,"t":2.1,"i":-0.06},{"s":14,"t":2.2,"i":0.01},{"s":14,"t":2.3,"i":-0.07},{"s":14,"t":2.4,"i":0.0},{"s":14,"t":2.5,"i":-0.06},{"s":14,"t":2.6,"i":0.01},{"s":14,"t":2.7,"i":-0.04},{"s":14,"t":2.8,"i":0.02},{"s":14,"t":2.9,"i":-0.04},{"s":14,"t":3.0,"i":0.01},{"s":14,"t":3.1,"i":-0.06},{"s":14,"t":3.2,"i":0.0},{"s":14,"t":3.3,"i":-0.04},{"s":14,"t":3.4,"i":0.02},{"s":14,"t":3.5,"i":-0.01},{"s":14,"t":3.6,"i":-0.1},{"s":14,"t":3.7,"i":0.0},{"s":14,"t":3.754,"i":-0.04},
      {"s":14,"t":3.755,"i":0.89},{"s":14,"t":3.775,"i":0.87},{"s":14,"t":3.795,"i":0.9},{"s":14,"t":3.815,"i":0.88},{"s":14,"t":3.835,"i":0.91},{"s":14,"t":3.855,"i":0.82},{"s":14,"t":3.875,"i":0.9},{"s":14,"t":3.895,"i":0.89},{"s":14,"t":3.915,"i":0.92},{"s":14,"t":3.935,"i":0.9},{"s":14,"t":3.955,"i":0.93},
      {"s":14,"t":3.956,"i":-0.1},{"s":14,"t":3.97,"i":-0.05},{"s":14,"t":3.995,"i":0.0},{"s":14,"t":4.025,"i":0.02},{"s":14,"t":4.055,"i":-0.01},

      {"s":15,"t":0,"i":0.0},{"s":15,"t":0.05,"i":-0.03},{"s":15,"t":0.099,"i":0.02},
      {"s":15,"t":0.1,"i":0.85},{"s":15,"t":0.15,"i":0.88},{"s":15,"t":0.2,"i":0.85},{"s":15,"t":0.25,"i":0.87},{"s":15,"t":0.3,"i":0.84},{"s":15,"t":0.35,"i":0.89},{"s":15,"t":0.4,"i":0.87},{"s":15,"t":0.45,"i":0.91},{"s":15,"t":0.5,"i":0.86},{"s":15,"t":0.55,"i":0.9},{"s":15,"t":0.6,"i":0.86},{"s":15,"t":0.65,"i":0.91},{"s":15,"t":0.7,"i":0.89},{"s":15,"t":0.75,"i":0.92},{"s":15,"t":0.8,"i":0.88},{"s":15,"t":0.85,"i":0.9},{"s":15,"t":0.9,"i":0.9},{"s":15,"t":0.95,"i":0.93},{"s":15,"t":1.0,"i":0.88},{"s":15,"t":1.05,"i":0.93},{"s":15,"t":1.1,"i":0.9},{"s":15,"t":1.15,"i":0.95},{"s":15,"t":1.2,"i":0.92},{"s":15,"t":1.25,"i":0.95},{"s":15,"t":1.3,"i":0.9},{"s":15,"t":1.35,"i":0.93},{"s":15,"t":1.4,"i":0.96},{"s":15,"t":1.45,"i":0.92},{"s":15,"t":1.5,"i":0.95},{"s":15,"t":1.55,"i":0.92},{"s":15,"t":1.6,"i":0.98},
      {"s":15,"t":1.601,"i":-0.32},{"s":15,"t":1.615,"i":-0.23},{"s":15,"t":1.64,"i":-0.12},{"s":15,"t":1.68,"i":-0.07},{"s":15,"t":1.75,"i":-0.01},{"s":15,"t":1.85,"i":-0.07},{"s":15,"t":1.95,"i":0.0},{"s":15,"t":2.05,"i":-0.06},{"s":15,"t":2.15,"i":0.01},{"s":15,"t":2.25,"i":-0.07},{"s":15,"t":2.35,"i":-0.01},{"s":15,"t":2.45,"i":-0.06},{"s":15,"t":2.55,"i":0.02},{"s":15,"t":2.65,"i":-0.04},{"s":15,"t":2.75,"i":0.01},{"s":15,"t":2.85,"i":-0.06},{"s":15,"t":2.95,"i":0.0},{"s":15,"t":3.05,"i":-0.04},{"s":15,"t":3.15,"i":0.02},{"s":15,"t":3.25,"i":-0.01},{"s":15,"t":3.35,"i":0.01},{"s":15,"t":3.45,"i":-0.06},{"s":15,"t":3.55,"i":0.0},{"s":15,"t":3.65,"i":-0.11},{"s":15,"t":3.75,"i":-0.01},{"s":15,"t":3.85,"i":0.01},{"s":15,"t":3.904,"i":-0.01},
      {"s":15,"t":3.905,"i":0.9},{"s":15,"t":3.925,"i":0.88},{"s":15,"t":3.945,"i":0.91},{"s":15,"t":3.965,"i":0.89},{"s":15,"t":3.985,"i":0.92},{"s":15,"t":4.005,"i":0.9},{"s":15,"t":4.025,"i":0.93},{"s":15,"t":4.045,"i":0.91},{"s":15,"t":4.065,"i":0.93},{"s":15,"t":4.085,"i":0.91},{"s":15,"t":4.105,"i":0.93},
      {"s":15,"t":4.106,"i":-0.25},{"s":15,"t":4.115,"i":-0.12},{"s":15,"t":4.13,"i":-0.08},{"s":15,"t":4.16,"i":-0.02},{"s":15,"t":4.18,"i":-0.07},{"s":15,"t":4.205,"i":-0.03}
    ]
  },
  "resolve": {"axis": {"x": "independent", "y": "independent"}},
  "layer": [
    {
      "mark": {"type": "line", "color": "black", "strokeWidth": 2.6},
      "encoding": {
        "x": {
          "field": "t",
          "type": "quantitative",
          "scale": {"domain": [-0.166, 4.371], "nice": false, "zero": false},
          "axis": {
            "orient": "bottom",
            "title": "t [s]",
            "values": [0.1, 2.05, 4],
            "format": ".3~g",
            "tickSize": -7,
            "labelFontSize": 32,
            "labelPadding": 28,
            "labelBaseline": "top",
            "titleFontSize": 32,
            "titleX": 367,
            "titleY": 91,
            "titleAlign": "center",
            "titleBaseline": "alphabetic"
          }
        },
        "y": {
          "field": "i",
          "type": "quantitative",
          "scale": {"domain": [-0.468, 1.141], "nice": false, "zero": false},
          "axis": {
            "orient": "left",
            "title": "I [nA]",
            "values": [0, 0.5, 1],
            "format": ".3~g",
            "tickSize": -7,
            "labelFontSize": 32,
            "labelPadding": 22,
            "titleFontSize": 32,
            "titleAngle": 270,
            "titleX": -84,
            "titleY": 239,
            "titleAlign": "center",
            "titleBaseline": "alphabetic"
          }
        },
        "detail": {"field": "s", "type": "nominal"}
      }
    },
    {
      "transform": [{"filter": "datum.s == 0 && datum.t == 0"}],
      "mark": {"type": "point", "opacity": 0},
      "encoding": {
        "x": {
          "field": "t",
          "type": "quantitative",
          "axis": {
            "orient": "top",
            "title": "Kv5.1 \u00a0Rat \u00a0CHO \u00a025 °C",
            "labels": false,
            "ticks": false,
            "domain": false,
            "titleFontSize": 22,
            "titleFontWeight": "bold",
            "titleColor": "#000",
            "titleX": 37,
            "titleY": 0,
            "titleAlign": "left",
            "titleBaseline": "alphabetic"
          }
        },
        "y": {
          "field": "i",
          "type": "quantitative",
          "axis": {
            "orient": "right",
            "title": "BBP Channelpedia ID 8962 rep 1",
            "labels": false,
            "ticks": false,
            "domain": false,
            "titleFontSize": 22,
            "titleColor": "#000",
            "titleAngle": 270,
            "titleX": 2,
            "titleY": 239,
            "titleAlign": "center",
            "titleBaseline": "alphabetic"
          }
        }
      }
    }
  ]
}
